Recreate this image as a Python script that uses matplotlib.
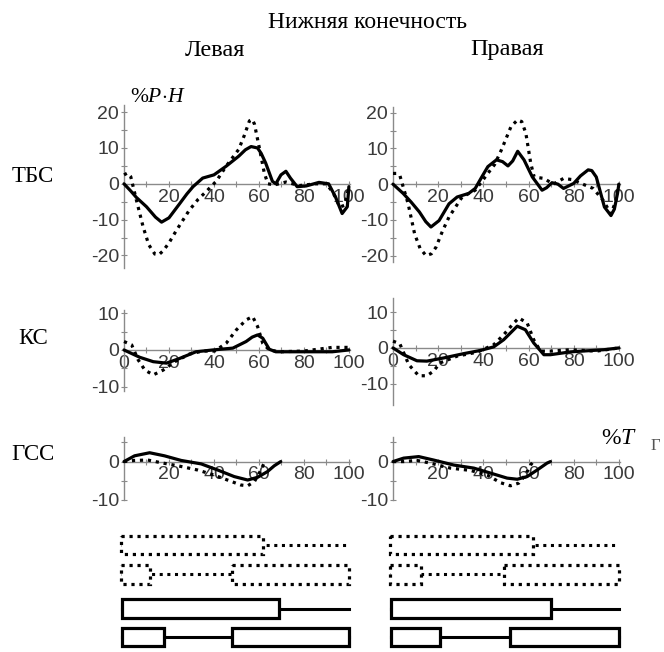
import matplotlib
matplotlib.use("Agg")
import matplotlib.pyplot as plt
from matplotlib.patches import Rectangle

plt.rcParams["mathtext.fontset"] = "custom"
plt.rcParams["mathtext.rm"] = "Liberation Serif"
plt.rcParams["mathtext.it"] = "Liberation Serif:italic"

# ---- curve data (x in %T, y in %P·H) ----
tbs_l_sx = [0, 3, 5.5, 10, 14, 16.7, 20, 24.8, 28, 30.7, 35, 40, 45.4, 51, 54, 56.5, 59.4, 61, 63, 66, 67.5,
            69.8, 72, 74, 77, 81, 86.7, 91, 94, 97, 99.3, 100]
tbs_l_sy = [0, -2, -3.8, -6.4, -9.3, -10.7, -9.5, -5.5, -2.8, -0.8, 1.6, 2.5, 4.9, 7.7, 9.5, 10.4, 10, 8.5, 5.8,
            0.7, 0, 2.5, 3.5, 1.6, -0.8, -0.6, 0.4, 0, -3.6, -8.3, -6.4, -0.8]
tbs_l_dx = [0, 1.5, 3, 5.5, 8.5, 11, 13.7, 15.5, 17.4, 20, 23.3, 29, 33, 36.5, 41, 45.4, 51, 53.5, 55.8, 57, 58,
            60, 62.4, 64, 67, 72, 78, 85, 90, 93, 96, 98, 100]
tbs_l_dy = [2.5, 3, 2, -4.5, -12, -17, -19.6, -19.8, -18.7, -16.5, -13, -7.4, -4.3, -2.2, 0.7, 4.9, 9.6, 13.5,
            17.6, 18, 16.7, 10.6, 3, 0, -0.3, 0.5, -0.5, 0, 0, -2.5, -6.5, -6, -1]

tbs_r_sx = [0, 4.5, 8, 11.7, 14.5, 16.8, 20.4, 24.8, 28.4, 33.5, 36.4, 39.3, 42, 45.8, 48.5, 50.9, 53, 55.2, 58,
            61.7, 66, 68, 70.4, 73, 75.5, 80, 83, 86.4, 88, 90, 93.6, 96.5, 98, 99.4, 100]
tbs_r_sy = [0, -2.6, -5, -7.8, -10.5, -12, -10.2, -5.5, -3.6, -2.6, -1.2, 2, 4.9, 6.8, 6.3, 5.1, 6.5, 9.2, 6.8,
            2, -1.7, -1, 0.4, 0, -1.2, 0.2, 2.3, 4, 3.8, 2, -6.4, -8.8, -7, -2.6, 0]
tbs_r_dx = [0, 1.5, 3, 6.7, 9.6, 12, 14.6, 17, 19, 22, 24.8, 30.6, 36.4, 41.4, 45, 48, 52.3, 55.2, 57, 58.8, 61,
            62.5, 66.8, 71, 75.5, 79, 84, 88.6, 93, 96.5, 98.5, 100]
tbs_r_dy = [3, 3, 2.5, -5.5, -14, -18, -20, -19.5, -17.7, -13, -9.2, -3.6, -1.7, 2.5, 5.5, 9.6, 16.2, 18, 17.5,
            14.3, 5.8, 2, 1.6, 0, 1.6, 1.3, 0, -1.2, -4.5, -8.3, -5, 0]

ks_l_sx = [0, 7, 13, 18.9, 24.8, 32, 39.5, 48.4, 54.3, 57, 59.4, 61.7, 64.6, 67.5, 78, 92.6, 100]
ks_l_sy = [0, -2, -3.2, -3.6, -2.3, -0.5, 0, 0.5, 2.3, 3.5, 4.1, 3.2, 0.2, -0.5, -0.5, -0.5, 0]
ks_l_dx = [0, 3.4, 6.3, 9.3, 13, 17.4, 22.6, 29.2, 35, 40.3, 45.4, 50, 54.3, 57.2, 59.4, 61.7, 64.6, 69, 80,
           92.6, 100]
ks_l_dy = [2.3, 1.4, -2.7, -5.5, -6.8, -5.5, -3.2, -1.1, -0.3, -0.3, 1.8, 5.5, 8.2, 9.1, 6.4, 1.8, 0, -0.5,
           -0.3, 0.7, 0.7]

ks_r_sx = [0, 4.7, 10.6, 15, 22.5, 31.3, 38.7, 44.6, 49, 55, 58.6, 62.3, 66.8, 69.7, 78.6, 93.4, 100]
ks_r_sy = [0, -1.9, -3.6, -3.7, -2.8, -1.6, -0.7, 0.3, 2.3, 6.1, 5.1, 1.4, -1.9, -1.9, -1.1, -0.5, 0]
ks_r_dx = [0, 3, 7, 11.4, 15, 18, 20.8, 28.4, 37.2, 44.6, 49, 53.5, 55.7, 59.4, 62.3, 65.3, 69.7, 78.6, 90, 100]
ks_r_dy = [1.9, 1.2, -4.7, -7.8, -7.8, -6.5, -4.2, -2.3, -1.2, 0.9, 3.7, 7, 8.4, 7, 2.3, -0.9, -0.9, -0.5,
           -0.9, 0]

gss_l_sx = [0, 4.7, 11.4, 18, 25.4, 34.3, 41.7, 49, 55, 59.4, 63.8, 66.8, 69.7]
gss_l_sy = [0, 1.5, 2.3, 1.5, 0.3, -0.6, -2.2, -3.9, -4.8, -4.1, -2.6, -1.1, 0]
gss_l_dx = [0, 4.7, 10.6, 16.5, 24, 32.8, 40, 46, 52, 55, 58, 60.9, 62.3]
gss_l_dy = [0, 0.3, 0.4, -0.3, -1.1, -2.2, -3.5, -4.8, -6.1, -6.3, -5.2, -2.2, -0.4]

gss_r_sx = [0, 4.7, 11.4, 18, 26.9, 35.8, 43.2, 50.5, 55, 59.4, 63.8, 68.2, 69.7]
gss_r_sy = [0, 0.9, 1.3, 0.4, -0.9, -1.7, -3.0, -4.3, -4.6, -3.9, -2.2, -0.4, 0]
gss_r_dx = [0, 4.7, 10.6, 16.5, 25.4, 34.3, 41.7, 47.6, 52, 55.7, 58.6, 60.9, 61.7]
gss_r_dy = [0, 0, 0.3, -0.4, -1.7, -2.3, -3.5, -5.5, -6.3, -5.6, -3.5, -0.9, -0.3]

# ---- gait phase bars: box intervals for 4 rows (2 dotted, 2 solid) ----
gait_left = [[(-1.5, 62)], [(-1.5, 11.5), (48, 100)], [(-1, 69)], [(-1, 17.7), (48, 100)]]
gait_right = [[(-1.5, 62)], [(-1.5, 12.4), (49, 100)], [(-1, 70)], [(-1, 21), (52, 100)]]

row_labels = ["ТБС", "КС", "ГСС"]

W, H = 664, 652
fig = plt.figure(figsize=(W / 100, H / 100), dpi=100)

AX_COLOR = "#8a8a8a"
TXT_COLOR = "#3a3a3a"
DOT = (0, (1, 1.5))


def px_axes(x0, x1, ytop, ybot):
    return fig.add_axes([x0 / W, 1 - ybot / H, (x1 - x0) / W, (ybot - ytop) / H])


def setup(ax, ylim, yticks, ylabels, yminor, zero_label):
    ax.set_xlim(0, 100.5)
    ax.set_ylim(*ylim)
    for s in ("top", "right"):
        ax.spines[s].set_visible(False)
    ax.spines["bottom"].set_position(("data", 0))
    for s in ("left", "bottom"):
        ax.spines[s].set_color(AX_COLOR)
        ax.spines[s].set_linewidth(1.0)
    ax.set_xticks(range(0, 101, 10))
    ax.set_xticklabels([("0" if zero_label else "") if v == 0 else (str(v) if v % 20 == 0 else "")
                        for v in range(0, 101, 10)])
    ax.set_yticks(yticks)
    ax.set_yticklabels(ylabels)
    ax.set_yticks(yminor, minor=True)
    ax.tick_params(axis="both", which="both", direction="inout", length=5, width=0.8,
                   color=AX_COLOR, labelcolor=TXT_COLOR, labelsize=14)
    ax.tick_params(axis="x", pad=1)
    ax.tick_params(axis="y", pad=1)
    for lab in ax.get_xticklabels() + ax.get_yticklabels():
        lab.set_fontfamily("Liberation Sans")
    ax.patch.set_alpha(0)


def curves(ax, sx, sy, dx, dy):
    ax.plot(dx, dy, color="black", lw=2.3, linestyle=DOT, zorder=3, clip_on=False)
    ax.plot(sx, sy, color="black", lw=2.3, zorder=4, clip_on=False, solid_capstyle="round")


cols = [(124, 350), (393, 620)]

# row 1 (ТБС)
ax = px_axes(*cols[0], 105, 268)
setup(ax, (-23.5, 22), [-20, -10, 0, 10, 20], ["-20", "-10", "0", "10", "20"], [-15, -5, 5, 15], False)
curves(ax, tbs_l_sx, tbs_l_sy, tbs_l_dx, tbs_l_dy)
ax = px_axes(*cols[1], 107, 262)
setup(ax, (-21.8, 21.6), [-20, -10, 0, 10, 20], ["-20", "-10", "0", "10", "20"], [-15, -5, 5, 15], False)
curves(ax, tbs_r_sx, tbs_r_sy, tbs_r_dx, tbs_r_dy)

# row 2 (КС)
ax = px_axes(*cols[0], 310, 391)
setup(ax, (-11.2, 10.9), [-10, 0, 10], ["-10", "0", "10"], [-5, 5], True)
curves(ax, ks_l_sx, ks_l_sy, ks_l_dx, ks_l_dy)
ax = px_axes(*cols[1], 298, 405)
setup(ax, (-16, 14), [-10, 0, 10], ["-10", "0", "10"], [-5, 5], True)
curves(ax, ks_r_sx, ks_r_sy, ks_r_dx, ks_r_dy)

# row 3 (ГСС)
ax = px_axes(*cols[0], 437, 500)
setup(ax, (-10, 6.4), [-10, 0], ["-10", "0"], [-5, 5], False)
curves(ax, gss_l_sx, gss_l_sy, gss_l_dx, gss_l_dy)
ax = px_axes(*cols[1], 437, 500)
setup(ax, (-10, 6.4), [-10, 0], ["-10", "0"], [-5, 5], False)
curves(ax, gss_r_sx, gss_r_sy, gss_r_dx, gss_r_dy)

# gait phase diagrams
row_centers = [0.5, 1.47, 2.63, 3.57]
box_h = 0.63
for (x0, x1), rows in zip(cols, [gait_left, gait_right]):
    gx = px_axes(x0, x1, 530, 652)
    gx.set_xlim(0, 100.5)
    gx.set_ylim(4.07, 0)
    gx.axis("off")
    for i, boxes in enumerate(rows):
        yc = row_centers[i]
        ls = DOT if i < 2 else "-"
        gx.plot([boxes[0][0], 100], [yc, yc], color="black", lw=2.2, linestyle=ls, zorder=2, clip_on=False)
        for b0, b1 in boxes:
            gx.add_patch(Rectangle((b0, yc - box_h / 2), b1 - b0, box_h, facecolor="white",
                                   edgecolor="black", lw=2.3, linestyle=ls, zorder=3, clip_on=False))

# texts
serif = "Liberation Serif"
fig.text(367 / W, 1 - 22 / H, "Нижняя конечность", ha="center", va="center", fontsize=17, family=serif)
fig.text(215 / W, 1 - 50 / H, "Левая", ha="center", va="center", fontsize=17.5, family=serif)
fig.text(507 / W, 1 - 50 / H, "Правая", ha="center", va="center", fontsize=17.5, family=serif)
for lab, yp in zip(row_labels, [177, 338, 455]):
    fig.text(33 / W, 1 - yp / H, lab, ha="center", va="center", fontsize=16.5, family=serif)
fig.text(130 / W, 1 - 97 / H, r"%$P{\cdot}H$", ha="left", va="center", fontsize=15.5, family=serif)
fig.text(601 / W, 1 - 439 / H, r"%$T$", ha="left", va="center", fontsize=17, family=serif)
fig.text(651 / W, 1 - 446 / H, "Г", ha="left", va="center", fontsize=12, family=serif, color="#555555")

fig.savefig("out.png", dpi=100)
